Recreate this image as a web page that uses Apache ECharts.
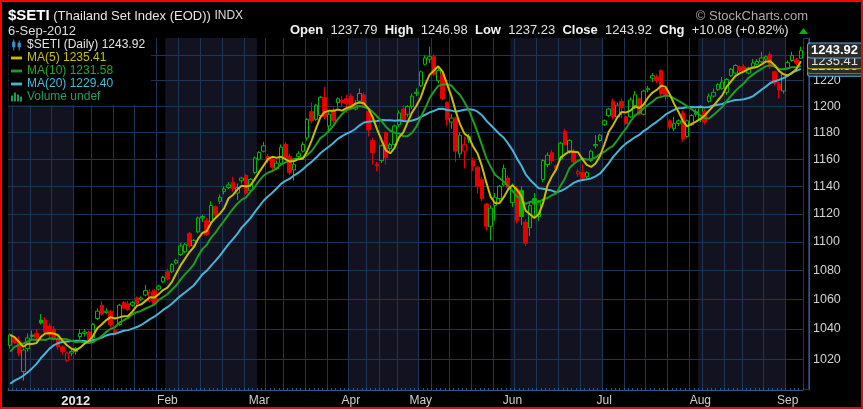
<!DOCTYPE html>
<html><head><meta charset="utf-8">
<script src="https://cdn.jsdelivr.net/npm/echarts@6/dist/echarts.min.js"></script>
<style>
html,body{margin:0;padding:0;background:#000;}
#wrap{position:relative;width:863px;height:409px;}
#c{width:863px;height:409px;}
#frame{position:absolute;left:0;top:0;width:863px;height:409px;box-sizing:border-box;border:2px solid #ff0000;pointer-events:none;}
</style></head><body>
<div id="wrap"><div id="c"></div><div id="frame"></div></div>
<script>
// ---------- data ----------
const firstDay = '2011-12-09';
const lastDay = '2012-09-06';
const holidays = ['2011-12-12','2012-01-02','2012-03-07','2012-04-06','2012-04-09','2012-04-13','2012-04-16','2012-04-30','2012-05-01','2012-05-07','2012-08-02','2012-08-03','2012-08-13'];

const opens = [
1029,1034,1032,1012,1027,1036,1037,1046,1046,1042,
1040,1034,1028,1019,1024,1025,1035,1037,1038,1034,
1047,1056,1051,1052,1039,1043,1058,1057,1056,1061,
1060,1063,1059,1066,1067,1072,1079,1079,1085,1091,
1093,1106,1097,1107,1117,1115,1114,1125,1129,1136,
1139,1143,1135,1144,1148,1137,1150,1160,1166,1162,
1160,1153,1157,1171,1162,1152,1162,1166,1176,1196,
1190,1193,1207,1185,1197,1203,1205,1206,1208,1198,
1204,1209,1196,1174,1156,1159,1180,1168,1171,1186,
1198,1194,1200,1210,1216,1233,1237,1239,1220,1225,
1203,1188,1191,1164,1166,1175,1159,1154,1145,1127,
1111,1126,1131,1141,1146,1128,1138,1137,1114,1110,
1131,1118,1145,1156,1165,1155,1160,1181,1166,1166,
1149,1150,1147,1159,1170,1174,1186,1193,1204,1192,
1204,1192,1192,1199,1206,1194,1213,1222,1223,1228,
1214,1189,1183,1187,1195,1177,1186,1194,1190,1196,
1204,1208,1213,1214,1211,1224,1226,1231,1231,1226,
1231,1233,1235,1237,1241,1227,1217,1212,1230,1236,
1236.5,1237.79];
const highs = [
1037,1035,1035,1027,1037,1039,1040,1050,1048,1044,
1042,1036,1029,1025,1027,1028,1040,1040,1039,1044,
1054,1059,1054,1053,1041,1057,1059,1059,1059,1062,
1062,1070,1067,1067,1070,1076,1081,1085,1088,1099,
1099,1107,1102,1118,1119,1117,1129,1126,1134,1140,
1143,1147,1142,1147,1149,1146,1162,1166,1173,1164,
1161,1159,1171,1173,1164,1158,1166,1173,1191,1203,
1202,1208,1215,1196,1199,1207,1208,1209,1210,1205,
1214,1211,1197,1176,1158,1171,1181,1172,1186,1197,
1201,1201,1210,1214,1228,1240,1247,1241,1230,1226,
1204,1194,1192,1180,1177,1179,1161,1155,1147,1128,
1126,1135,1141,1156,1148,1142,1140,1140,1116,1128,
1135,1130,1160,1165,1167,1156,1173,1183,1175,1168,
1153,1156,1151,1167,1178,1179,1190,1199,1206,1203,
1206,1193,1207,1212,1207,1213,1216,1226,1225,1229,
1215,1190,1192,1190,1197,1190,1194,1198,1201,1198,
1210,1214,1218,1223,1222,1230,1233,1232,1233,1231,
1237,1237,1243,1240,1243,1228,1219,1226,1236,1243,
1238,1246.98];
const lows = [
1027,1030,1022,1006,1025,1033,1033,1043,1036,1034,
1032,1026,1023,1018,1022,1023,1033,1035,1031,1032,
1046,1049,1050,1041,1036,1042,1053,1052,1055,1055,
1059,1062,1058,1056,1066,1071,1073,1078,1084,1090,
1092,1096,1096,1106,1114,1104,1112,1117,1127,1134,
1138,1136,1130,1142,1134,1135,1149,1159,1165,1157,
1152,1152,1155,1159,1148,1144,1160,1165,1174,1187,
1189,1192,1190,1180,1187,1199,1200,1195,1197,1197,
1203,1199,1177,1156,1151,1157,1156,1166,1170,1184,
1188,1192,1198,1208,1215,1232,1234,1224,1218,1205,
1185,1183,1158,1161,1153,1172,1151,1135,1129,1108,
1101,1115,1129,1140,1138,1125,1113,1112,1097,1104,
1118,1115,1143,1154,1157,1150,1159,1170,1164,1156,
1147,1145,1146,1158,1168,1173,1185,1192,1190,1191,
1191,1186,1191,1198,1193,1193,1211,1219,1218,1208,
1204,1182,1181,1185,1173,1176,1185,1192,1188,1186,
1203,1207,1212,1213,1209,1223,1225,1227,1226,1225,
1230,1232,1234,1236,1229,1216,1206,1210,1229,1235,
1232,1237.23];
const closes = [
1036,1031,1024,1026,1034,1035,1034,1044,1038,1036,
1033,1028,1025,1024,1025,1027,1037,1038,1033,1043,
1052,1050,1052,1043,1038,1056,1054,1053,1058,1057,
1061,1066,1065,1057,1069,1075,1074,1084,1087,1097,
1098,1097,1101,1117,1118,1105,1126,1119,1132,1138,
1141,1138,1139,1146,1135,1145,1161,1165,1170,1159,
1154,1157,1169,1161,1150,1156,1164,1171,1190,1189,
1201,1207,1192,1194,1189,1206,1203,1202,1199,1201,
1210,1200,1182,1165,1155,1170,1161,1171,1185,1195,
1189,1200,1208,1211,1227,1238,1239,1225,1228,1206,
1190,1191,1166,1178,1171,1177,1155,1140,1131,1111,
1124,1132,1140,1153,1139,1140,1115,1118,1099,1126,
1127,1128,1159,1163,1159,1153,1172,1171,1174,1158,
1151,1146,1150,1166,1171,1178,1189,1198,1192,1201,
1199,1187,1205,1209,1194,1212,1214,1224,1220,1210,
1209,1184,1187,1189,1175,1189,1193,1196,1199,1188,
1208,1211,1217,1219,1221,1229,1232,1228,1227,1230,
1234,1235.2,1238,1239,1231,1218,1212.75,1225,1234.3,1240,
1233.84,1243.92];
// closes before the first visible day (estimated from where the averages start)
const priorCloses = [990,995,992,988,985,978,968,975,972,987,1000,1010,1018,1020,1022,1038,1040,1042,1024];
const yTickValues = [1020,1040,1060,1080,1100,1120,1140,1160,1180,1200,1220,1240];
const maPeriods = [5,10,20];
const monthNames = ['Jan','Feb','Mar','Apr','May','Jun','Jul','Aug','Sep','Oct','Nov','Dec'];

// ---------- helpers ----------
function buildTradingDays(first, last, skip) {
  const out = []; const d = new Date(first + 'T00:00:00Z'); const end = new Date(last + 'T00:00:00Z');
  while (d <= end) {
    const wd = d.getUTCDay(); const s = d.toISOString().slice(0, 10);
    if (wd !== 0 && wd !== 6 && skip.indexOf(s) < 0) out.push(s);
    d.setUTCDate(d.getUTCDate() + 1);
  }
  return out;
}
const dates = buildTradingDays(firstDay, lastDay, holidays);
if (dates.length !== closes.length || opens.length !== closes.length || highs.length !== closes.length || lows.length !== closes.length) {
  throw new Error('length mismatch ' + dates.length + ' ' + opens.length + ' ' + highs.length + ' ' + lows.length + ' ' + closes.length);
}
function movingAverage(n) {
  const all = priorCloses.concat(closes);
  return closes.map(function (_, i) {
    const end = priorCloses.length + i; let s = 0;
    for (let k = end - n + 1; k <= end; k++) s += all[k];
    return +(s / n).toFixed(2);
  });
}
const ma5 = movingAverage(maPeriods[0]);
const ma10 = movingAverage(maPeriods[1]);
const ma20 = movingAverage(maPeriods[2]);
const last = closes.length - 1;

function dayNum(s) { return Math.floor(Date.parse(s + 'T00:00:00Z') / 86400000); }
function weekKey(s) { return Math.floor((dayNum(s) + 3) / 7); }
function isWeekStart(i) { return i > 0 && weekKey(dates[i]) !== weekKey(dates[i - 1]); }
function isMonthStart(i) { return i > 0 && dates[i].slice(0, 7) !== dates[i - 1].slice(0, 7); }

const GREEN = '#00b800', RED = '#e60000';
const FONT = "'Liberation Sans', Arial, Helvetica, sans-serif";
const GRID_COLOR = '#1b3656';
const AXIS_COLOR = '#2c5a86';
const C_MA5 = '#cabc00', C_MA10 = '#1e9e1e', C_MA20 = '#46b4d6';

const candleData = closes.map(function (c, i) {
  const prev = i === 0 ? priorCloses[priorCloses.length - 1] : closes[i - 1];
  const col = c >= prev ? GREEN : RED;
  const hollow = c >= opens[i];
  const fill = hollow ? 'rgba(0,0,0,0)' : col;
  return { value: [opens[i], c, lows[i], highs[i]], itemStyle: { color: fill, color0: fill, borderColor: col, borderColor0: col, borderWidth: 1 } };
});

function tagLabel(textColor, border, bold) {
  return { show: true, position: 'end', distance: 5, formatter: function (p) { return Number(p.value).toFixed(2); },
    color: textColor, fontFamily: FONT, fontSize: 13, fontWeight: bold ? 'bold' : 'normal',
    backgroundColor: '#2a2a2a', borderColor: border, borderWidth: 1, borderRadius: 2, padding: [1, 4, 0, 3] };
}
const hiddenLine = { width: 0, color: 'rgba(0,0,0,0)' };

const candleName = '$SETI (Daily) ' + closes[last].toFixed(2);
const ma5Name = 'MA(' + maPeriods[0] + ') ' + ma5[last].toFixed(2);
const ma10Name = 'MA(' + maPeriods[1] + ') ' + ma10[last].toFixed(2);
const ma20Name = 'MA(' + maPeriods[2] + ') ' + ma20[last].toFixed(2);
const volName = 'Volume undef';

const gridLineData = yTickValues.map(function (v) {
  return { yAxis: v, lineStyle: { color: GRID_COLOR, width: 1, type: 'solid' },
    label: { show: true, position: 'end', distance: 10, formatter: String(v), color: '#d2d2d2', fontFamily: FONT, fontSize: 12.5 } };
});

const d = dates[last];
const dateText = (+d.slice(8, 10)) + '-' + monthNames[+d.slice(5, 7) - 1] + '-' + d.slice(0, 4);
const chg = closes[last] - closes[last - 1];
const chgPct = chg / closes[last - 1] * 100;
const sign = chg >= 0 ? '+' : '';
const ohlcText = '{b|Open}  {v|' + opens[last].toFixed(2) + '}  {b|High}  {v|' + highs[last].toFixed(2) + '}  {b|Low}  {v|' + lows[last].toFixed(2) +
  '}  {b|Close}  {v|' + closes[last].toFixed(2) + '}  {b|Chg}  {v|' + sign + chg.toFixed(2) + ' (' + sign + chgPct.toFixed(2) + '%)}';

const chart = echarts.init(document.getElementById('c'), null, { renderer: 'canvas' });
chart.setOption({
  backgroundColor: '#000',
  animation: false,
  textStyle: { fontFamily: FONT },
  grid: { left: 8, right: 60, top: 38, bottom: 19, containLabel: false },
  xAxis: {
    type: 'category', data: dates, boundaryGap: true,
    axisLine: { show: true, lineStyle: { color: AXIS_COLOR, width: 1 } },
    axisTick: { show: true, interval: 0, inside: true, length: 2, lineStyle: { color: AXIS_COLOR } },
    axisLabel: {
      interval: function (i) { return isMonthStart(i); },
      formatter: function (v) { const m = +v.slice(5, 7); return m === 1 ? '{y|' + v.slice(0, 4) + '}' : monthNames[m - 1]; },
      color: '#cfcfcf', fontFamily: FONT, fontSize: 12, margin: 5,
      rich: { y: { fontWeight: 'bold', color: '#e6e6e6', fontSize: 13, fontFamily: FONT } }
    },
    splitLine: { show: true, interval: function (i) { return isWeekStart(i); }, lineStyle: { color: GRID_COLOR, width: 1 } },
    splitArea: { show: true, interval: function (i) { return i === 0 || isMonthStart(i); }, areaStyle: { color: ['#121220', '#000000'] } }
  },
  yAxis: {
    type: 'log', logBase: 10, min: 1000, max: 1254, position: 'right', offset: 6, scale: true,
    axisLine: { show: true, lineStyle: { color: AXIS_COLOR, width: 1 } },
    axisTick: { show: false }, axisLabel: { show: false }, splitLine: { show: false }
  },
  legend: {
    orient: 'vertical', left: 9, top: 38, padding: [1, 6, 2, 2], itemGap: 1,
    itemWidth: 11, itemHeight: 11, backgroundColor: '#000', selectedMode: false,
    textStyle: { fontFamily: FONT, fontSize: 12, lineHeight: 12 },
    data: [
      { name: candleName, icon: 'path://M1,0h1v2h1v5h-1v3h-1v-3h-1v-5h1z M6,1h1v2h1v4h-1v3h-1v-3h-1v-4h1z', itemStyle: { color: '#3d8ad6', borderWidth: 0 }, textStyle: { color: '#e4e4e4' } },
      { name: ma5Name, icon: 'path://M0,4h10v2.6h-10z', itemStyle: { color: C_MA5, borderWidth: 0 }, textStyle: { color: '#c8c000' } },
      { name: ma10Name, icon: 'path://M0,4h10v2.6h-10z', itemStyle: { color: C_MA10, borderWidth: 0 }, textStyle: { color: '#22aa22' } },
      { name: ma20Name, icon: 'path://M0,4h10v2.6h-10z', itemStyle: { color: C_MA20, borderWidth: 0 }, textStyle: { color: '#3cc0d8' } },
      { name: volName, icon: 'path://M0,4h2v6h-2z M3,1h2v9h-2z M6,3h2v7h-2z M9,5h2v5h-2z', itemStyle: { color: '#1d9a56', borderWidth: 0 }, textStyle: { color: '#1fa25a' } }
    ]
  },
  graphic: [
    { type: 'rect', silent: true, z: 0, shape: { x: 8.5, y: 38.5, width: 800, height: 351 }, style: { fill: 'none', stroke: '#1d3a5c', lineWidth: 1 } },
    { type: 'text', silent: true, x: 8, y: 16, style: { text: '{s|$SETI} {n|(Thailand Set Index (EOD))} {i|INDX}', verticalAlign: 'middle', font: '13px ' + FONT, fill: '#e8e8e8',
      rich: { s: { fontSize: 15, fontWeight: 'bold', fill: '#ffffff', fontFamily: FONT }, n: { fontSize: 13, fill: '#e6e6e6', fontFamily: FONT }, i: { fontSize: 12, fill: '#dddddd', fontFamily: FONT } } } },
    { type: 'text', silent: true, x: 8, y: 31, style: { text: dateText, verticalAlign: 'middle', font: '13px ' + FONT, fill: '#dedede' } },
    { type: 'text', silent: true, x: 808, y: 16, style: { text: '\u00a9 StockCharts.com', align: 'right', verticalAlign: 'middle', font: '13px ' + FONT, fill: '#acacac' } },
    { type: 'text', silent: true, x: 290, y: 30, style: { text: ohlcText, verticalAlign: 'middle', font: '13px ' + FONT, fill: '#e0e0e0',
      rich: { b: { fontSize: 13, fontWeight: 'bold', fill: '#f2f2f2', fontFamily: FONT }, v: { fontSize: 13, fill: '#e2e2e2', fontFamily: FONT } } } },
    { type: 'polygon', silent: true, shape: { points: [[799, 34], [808, 34], [803.5, 28]] }, style: { fill: '#00b400' } }
  ],
  series: [
    { type: 'bar', name: volName, data: [], itemStyle: { color: '#1d9a56' } },
    { type: 'candlestick', name: candleName, data: candleData, barWidth: 4, z: 3,
      itemStyle: { color: GREEN, color0: RED, borderColor: GREEN, borderColor0: RED, borderWidth: 1 },
      markLine: { silent: true, symbol: 'none', z: 12, animation: false, lineStyle: hiddenLine,
        label: tagLabel('#ffffff', '#5ea4d8', true), data: [{ yAxis: closes[last] }] } },
    { type: 'line', name: ma20Name, data: ma20, showSymbol: false, symbol: 'none', z: 4,
      lineStyle: { color: C_MA20, width: 2 }, itemStyle: { color: C_MA20 },
      markLine: { silent: true, symbol: 'none', z: 1, animation: false,
        data: gridLineData.concat([{ yAxis: ma20[last], lineStyle: hiddenLine, label: tagLabel('#e0e0e0', '#3fb6d4', false) }]) } },
    { type: 'line', name: ma10Name, data: ma10, showSymbol: false, symbol: 'none', z: 5,
      lineStyle: { color: C_MA10, width: 2 }, itemStyle: { color: C_MA10 },
      markLine: { silent: true, symbol: 'none', z: 10, animation: false, lineStyle: hiddenLine,
        label: tagLabel('#e0e0e0', '#22a022', false), data: [{ yAxis: ma10[last] }] } },
    { type: 'line', name: ma5Name, data: ma5, showSymbol: false, symbol: 'none', z: 6,
      lineStyle: { color: C_MA5, width: 2 }, itemStyle: { color: C_MA5 },
      markLine: { silent: true, symbol: 'none', z: 11, animation: false, lineStyle: hiddenLine,
        label: tagLabel('#e0e0e0', '#b8a81c', false), data: [{ yAxis: ma5[last] }] } }
  ]
});
</script></body></html>
